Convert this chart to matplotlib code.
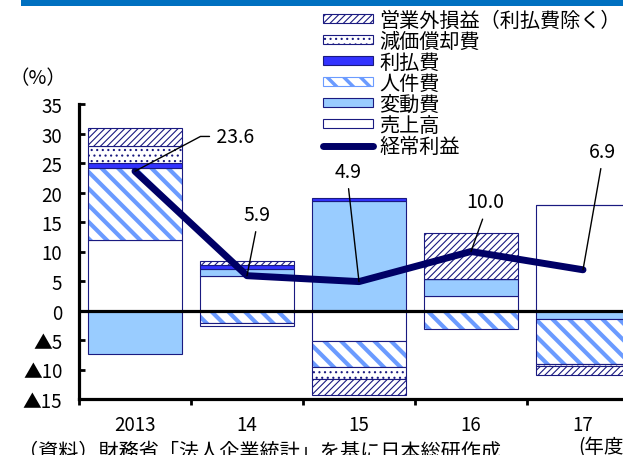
import numpy as np
import matplotlib
matplotlib.use('Agg')
import matplotlib.pyplot as plt
from matplotlib.patches import Patch, Rectangle
from matplotlib.lines import Line2D

plt.rcParams['font.family'] = ['Noto Sans CJK JP', 'DejaVu Sans']

years = ['2013', '14', '15', '16', '17']

# contributions (% points), stacked: positives up, negatives down
sales       = [11.9, 5.85, -5.2, 2.4, 17.9]     # 売上高
variable    = [-7.4, 1.25, 18.5, 2.9, -1.5]     # 変動費
personnel   = [12.2, -2.2, -4.4, -3.2, -7.5]    # 人件費
interest    = [0.9, 0.55, 0.5, 0.0, 0.0]        # 利払費
depreciation = [2.8, -0.35, -2.0, 0.0, -0.35]   # 減価償却費
nonop       = [3.2, 0.7, -2.8, 7.9, -1.65]      # 営業外損益（利払費除く）
ordinary_profit = [23.6, 5.9, 4.9, 10.0, 6.9]   # 経常利益

yticks = [35, 30, 25, 20, 15, 10, 5, 0, -5, -10, -15]
ytick_labels = ['35', '30', '25', '20', '15', '10', '5', '0', '▲5', '▲10', '▲15']

NAVY = '#1a1a80'
LINE = '#000066'
LIGHT = '#99ccff'
STRIPE = '#6b9bff'
BRIGHT = '#3333ff'
STRIPE_HATCH = '\\\\'
DIAG_HATCH = '/////'
DOT_HATCH = '...'

W, H = 623, 456
fig = plt.figure(figsize=(W / 100, H / 100), dpi=100)
ax = fig.add_axes([79 / W, 56 / H, 560 / W, 295 / H])

x = np.arange(len(years))
width = 0.84

series = [
    (sales, dict(color='white', edgecolor=NAVY, linewidth=0.8)),
    (variable, dict(color=LIGHT, edgecolor=NAVY, linewidth=0.8)),
    (personnel, 'stripe'),
    (interest, dict(color=BRIGHT, edgecolor=NAVY, linewidth=0.8)),
    (depreciation, dict(color='white', edgecolor=NAVY, linewidth=0.8, hatch=DOT_HATCH)),
    (nonop, dict(color='white', edgecolor=NAVY, linewidth=0.8, hatch=DIAG_HATCH)),
]

pos_base = np.zeros(len(years))
neg_base = np.zeros(len(years))
for vals, style in series:
    v = np.array(vals, dtype=float)
    bottom = np.where(v >= 0, pos_base, neg_base)
    if style == 'stripe':
        bars = ax.bar(x, v, width, bottom=bottom, color='white',
                      edgecolor=STRIPE, linewidth=0, hatch=STRIPE_HATCH)
        for b in bars:
            if hasattr(b, 'set_hatch_linewidth'):
                b.set_hatch_linewidth(3.0)
        ax.bar(x, v, width, bottom=bottom, fill=False, edgecolor=NAVY, linewidth=0.8)
    else:
        bars = ax.bar(x, v, width, bottom=bottom, **style)
        for b in bars:
            if hasattr(b, 'set_hatch_linewidth'):
                b.set_hatch_linewidth(0.8)
    pos_base = pos_base + np.where(v > 0, v, 0)
    neg_base = neg_base + np.where(v < 0, v, 0)

ax.axhline(0, color='black', lw=2.3, zorder=3)
ax.plot(x, ordinary_profit, color=LINE, lw=5, solid_capstyle='round',
        solid_joinstyle='round', zorder=4)

# value labels with leader lines
ann = dict(fontsize=14, ha='center', va='center', zorder=5)
line_kw = dict(arrowstyle='-', color='black', lw=1, shrinkB=0)
ax.annotate(' 23.6', xy=(0, ordinary_profit[0]), xytext=(0.69, 29.5),
            arrowprops=dict(connectionstyle='angle,angleA=0,angleB=28,rad=0',
                            relpos=(0, 0.5), shrinkA=0, **line_kw),
            fontsize=14, ha='left', va='center', zorder=5)
label_pos = [(1.09, 16.3), (1.90, 23.6), (3.125, 18.4), (4.17, 27.0)]
for i, (tx, ty) in zip(range(1, 5), label_pos):
    ax.annotate(f'{ordinary_profit[i]:.1f}', xy=(i, ordinary_profit[i]), xytext=(tx, ty),
                arrowprops=dict(relpos=(0.5, 0), shrinkA=3, **line_kw), **ann)

ax.set_xlim(-0.5, 4.5)
ax.set_ylim(-15, 35)
ax.set_yticks(yticks)
ax.set_yticklabels(ytick_labels)
ax.set_xticks(np.arange(-0.5, 4.6, 1), minor=False)
ax.set_xticklabels([])
ax.set_xticks(x, minor=True)
ax.set_xticklabels(years, minor=True)
ax.tick_params(axis='x', which='minor', length=0, labelsize=13.5, pad=11)
ax.tick_params(axis='x', which='major', direction='out', length=4, width=2)
ax.tick_params(axis='y', direction='in', length=4, width=2, labelsize=13.5, pad=12)
for s in ['top', 'right']:
    ax.spines[s].set_visible(False)
for s in ['left', 'bottom']:
    ax.spines[s].set_linewidth(2.3)

# legend
handles = [
    Patch(facecolor='white', edgecolor=NAVY, hatch=DIAG_HATCH, lw=0.8),
    Patch(facecolor='white', edgecolor=NAVY, hatch=DOT_HATCH, lw=0.8),
    Patch(facecolor=BRIGHT, edgecolor=NAVY, lw=0.8),
    Patch(facecolor='white', edgecolor=STRIPE, hatch=STRIPE_HATCH, lw=0.8),
    Patch(facecolor=LIGHT, edgecolor=NAVY, lw=0.8),
    Patch(facecolor='white', edgecolor=NAVY, lw=0.8),
    Line2D([], [], color=LINE, lw=5, solid_capstyle='round'),
]
labels = ['営業外損益（利払費除く）', '減価償却費', '利払費', '人件費', '変動費', '売上高', '経常利益']
leg = fig.legend(handles, labels, loc='upper left', bbox_to_anchor=(323 / W, 1 - 11 / H),
                 frameon=False, fontsize=14.5, borderpad=0, borderaxespad=0,
                 handlelength=2.5, handleheight=0.3, handletextpad=0.3, labelspacing=0.0)
for h in leg.legend_handles:
    if hasattr(h, 'set_hatch_linewidth'):
        h.set_hatch_linewidth(2.5 if h.get_hatch() == STRIPE_HATCH else 0.8)

# header bar and notes
fig.add_artist(Rectangle((21 / W, 1 - 7 / H), 602 / W, 7 / H, transform=fig.transFigure,
                         color='#0070c0', lw=0))
fig.text(38 / W, 1 - 79 / H, '（%）', fontsize=14, ha='center', va='center')
fig.text(18 / W, 1 - 458 / H, '（資料）財務省「法人企業統計」を基に日本総研作成',
         fontsize=14.5, ha='left', va='baseline')
fig.text(578 / W, 1 - 453 / H, '(年度)', fontsize=14, ha='left', va='baseline')

fig.savefig('out.png', dpi=100)
